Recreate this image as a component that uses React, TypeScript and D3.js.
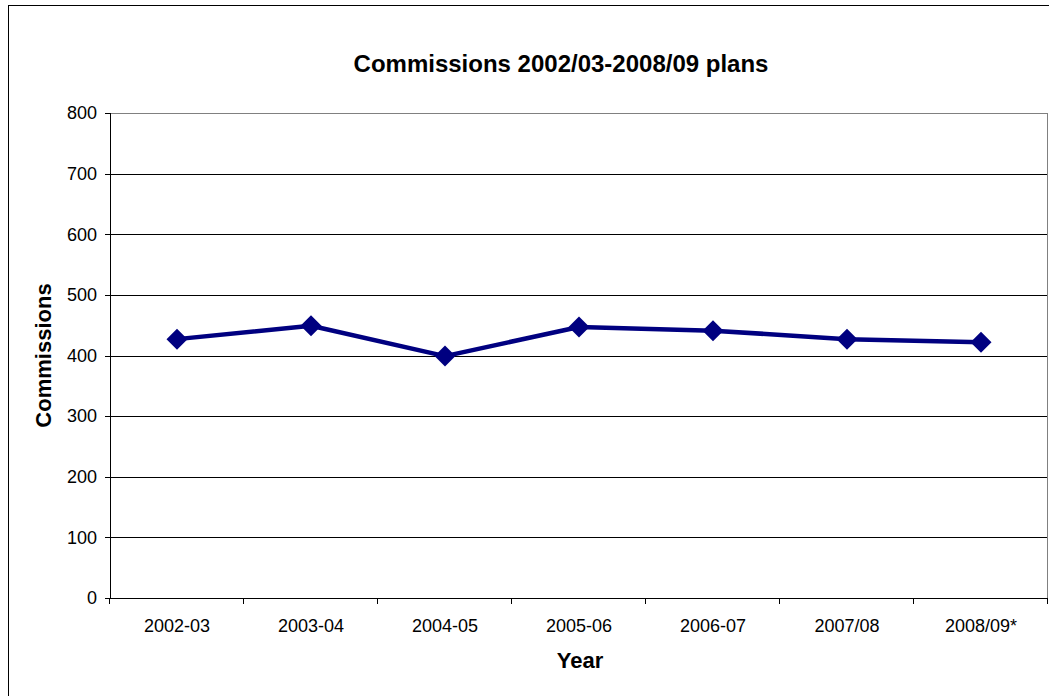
import React from "react";
import * as d3 from "d3";

const categories = ["2002-03", "2003-04", "2004-05", "2005-06", "2006-07", "2007/08", "2008/09*"];
const commissions = [427, 449, 399, 447, 441, 427, 422];
const yTicks = [0, 100, 200, 300, 400, 500, 600, 700, 800];
const title = "Commissions 2002/03-2008/09 plans";
const xTitle = "Year";
const yTitle = "Commissions";

const W = 1049;
const H = 696;
const left = 110;
const right = 1048;
const top = 113;
const bottom = 598;
const font = "'Liberation Sans', Arial, Helvetica, sans-serif";

export default function App() {
  const x = d3.scaleBand<string>().domain(categories).range([left, right]).padding(0);
  const y = d3.scaleLinear().domain([0, 800]).range([bottom, top]);
  const cx = (c: string) => (x(c) as number) + x.bandwidth() / 2;
  const line = d3
    .line<number>()
    .x((_, i) => cx(categories[i]))
    .y((d) => y(d));
  const tickXs = [...categories.map((c) => x(c) as number), right];
  const d = 10.5;
  return (
    <svg width={W} height={H} style={{ position: "absolute", left: 0, top: 0, background: "#fff" }}>
      <rect x={8.5} y={5.5} width={1200} height={900} fill="#fff" stroke="#000" strokeWidth={1} />
      <text x={561} y={72} textAnchor="middle" fontFamily={font} fontWeight="bold" fontSize={24} fill="#000">
        {title}
      </text>
      {yTicks.filter((t) => t > 0 && t < 800).map((t) => (
        <line key={t} x1={left} x2={right} y1={Math.round(y(t)) + 0.5} y2={Math.round(y(t)) + 0.5} stroke="#000" strokeWidth={1} />
      ))}
      <line x1={left} x2={right} y1={top + 0.5} y2={top + 0.5} stroke="#808080" strokeWidth={1} />
      <line x1={right - 0.5} x2={right - 0.5} y1={top} y2={bottom} stroke="#808080" strokeWidth={1} />
      <line x1={left + 0.5} x2={left + 0.5} y1={top} y2={bottom} stroke="#000" strokeWidth={1} />
      <line x1={left} x2={right} y1={bottom + 0.5} y2={bottom + 0.5} stroke="#000" strokeWidth={1} />
      {yTicks.map((t) => (
        <g key={t}>
          <line x1={left - 5} x2={left} y1={Math.round(y(t)) + 0.5} y2={Math.round(y(t)) + 0.5} stroke="#000" />
          <text x={97} y={y(t)} dy="0.35em" textAnchor="end" fontFamily={font} fontSize={18} fill="#000">
            {t}
          </text>
        </g>
      ))}
      {tickXs.map((tx, i) => (
        <line key={i} x1={Math.round(tx) - 0.5} x2={Math.round(tx) - 0.5} y1={bottom} y2={bottom + 6} stroke="#000" />
      ))}
      {categories.map((c) => (
        <text key={c} x={cx(c)} y={632} textAnchor="middle" fontFamily={font} fontSize={18} fill="#000">
          {c}
        </text>
      ))}
      <text x={580} y={668} textAnchor="middle" fontFamily={font} fontWeight="bold" fontSize={22} fill="#000">
        {xTitle}
      </text>
      <text
        transform={`translate(51,${(top + bottom) / 2}) rotate(-90)`}
        textAnchor="middle"
        fontFamily={font}
        fontWeight="bold"
        fontSize={22}
        fill="#000"
      >
        {yTitle}
      </text>
      <path d={line(commissions) || ""} fill="none" stroke="#000080" strokeWidth={4.5} strokeLinejoin="round" />
      {commissions.map((v, i) => {
        const px = cx(categories[i]);
        const py = y(v);
        return (
          <path key={i} d={`M${px},${py - d}L${px + d},${py}L${px},${py + d}L${px - d},${py}Z`} fill="#000080" />
        );
      })}
    </svg>
  );
}
